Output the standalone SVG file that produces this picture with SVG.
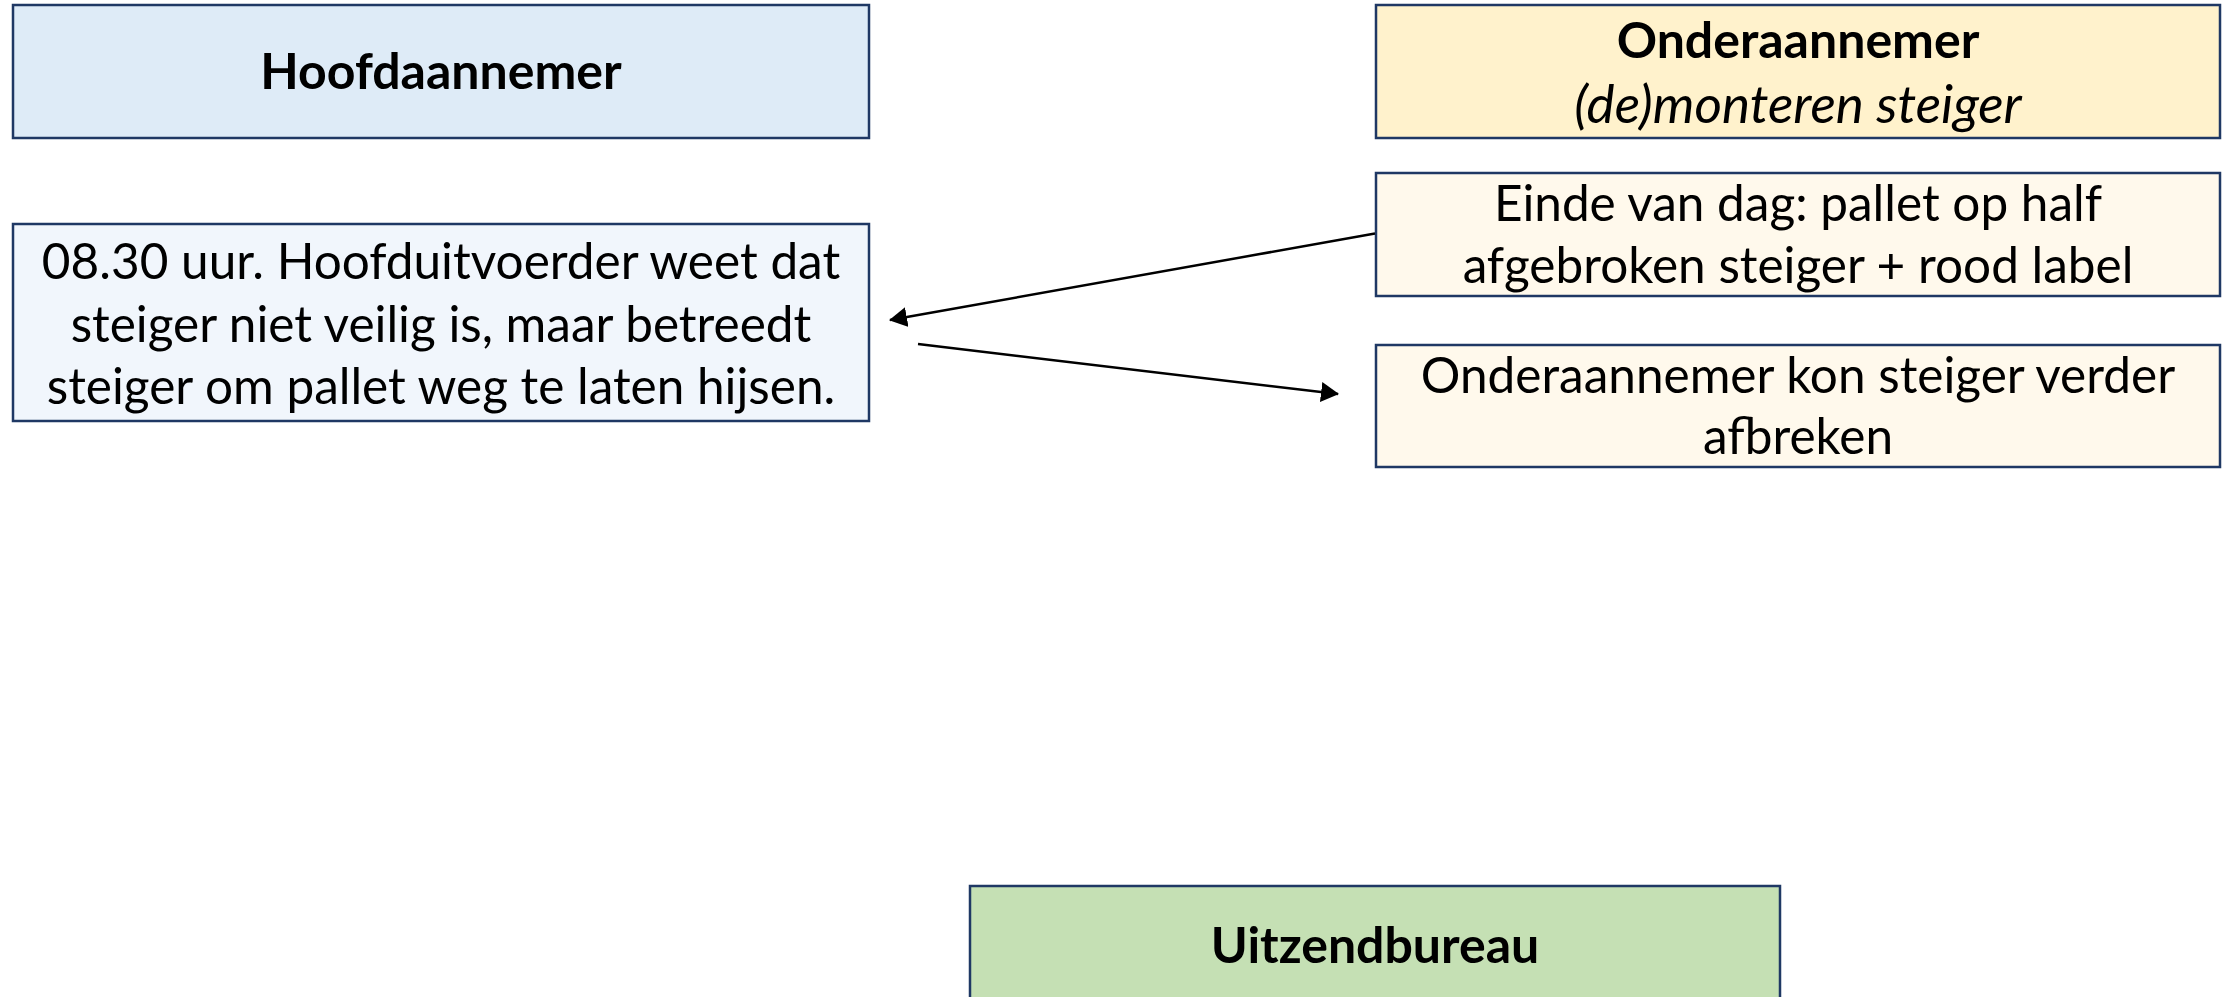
<svg xmlns="http://www.w3.org/2000/svg" width="2233" height="997" viewBox="0 0 2233 997">
<defs>
<marker id="ah" viewBox="0 0 18 20" refX="17" refY="10" markerWidth="18" markerHeight="20" markerUnits="userSpaceOnUse" orient="auto">
<path d="M0,0 L18,10 L0,20 Z" fill="#000"/>
</marker>
<style>
.box{stroke:#1F3864;stroke-width:2.5}
.t{font-family:Lato,"Liberation Sans",sans-serif;font-size:49.5px;fill:#000;text-anchor:middle}
.b{font-weight:bold;font-size:50px}
.i{font-style:italic;font-size:53px}
.c{stroke:#000;stroke-width:2.5;fill:none}
</style>
</defs>
<rect width="2233" height="997" fill="#fff"/>
<g id="hoofdaannemer">
<rect class="box" x="13" y="5" width="856" height="133" fill="#DEEBF7"/>
<text class="t b" x="441" y="89">Hoofdaannemer</text>
</g>
<g id="hoofduitvoerder">
<rect class="box" x="13" y="224" width="856" height="197" fill="#F1F6FC"/>
<text class="t" x="441" y="279">08.30 uur. Hoofduitvoerder weet dat</text>
<text class="t" x="441" y="342">steiger niet veilig is, maar betreedt</text>
<text class="t" x="441" y="404">steiger om pallet weg te laten hijsen.</text>
</g>
<g id="onderaannemer">
<rect class="box" x="1376" y="5" width="844" height="133" fill="#FFF2CC"/>
<text class="t b" x="1798" y="58">Onderaannemer</text>
<text class="t i" x="1798" y="123">(de)monteren steiger</text>
</g>
<g id="einde">
<rect class="box" x="1376" y="173" width="844" height="123" fill="#FFF9EC"/>
<text class="t" x="1798" y="221">Einde van dag: pallet op half</text>
<text class="t" x="1798" y="283">afgebroken steiger + rood label</text>
</g>
<g id="verder">
<rect class="box" x="1376" y="345" width="844" height="122" fill="#FFF9EC"/>
<text class="t" x="1798" y="393">Onderaannemer kon steiger verder</text>
<text class="t" x="1798" y="454">afbreken</text>
</g>
<g id="uitzendbureau">
<rect class="box" x="970" y="886" width="810" height="130" fill="#C5E0B4"/>
<text class="t b" x="1375" y="963">Uitzendbureau</text>
</g>
<g id="connectors">
<line class="c" x1="1375" y1="233.5" x2="890" y2="320" marker-end="url(#ah)"/>
<line class="c" x1="918" y1="344" x2="1338" y2="394" marker-end="url(#ah)"/>
</g>
</svg>
